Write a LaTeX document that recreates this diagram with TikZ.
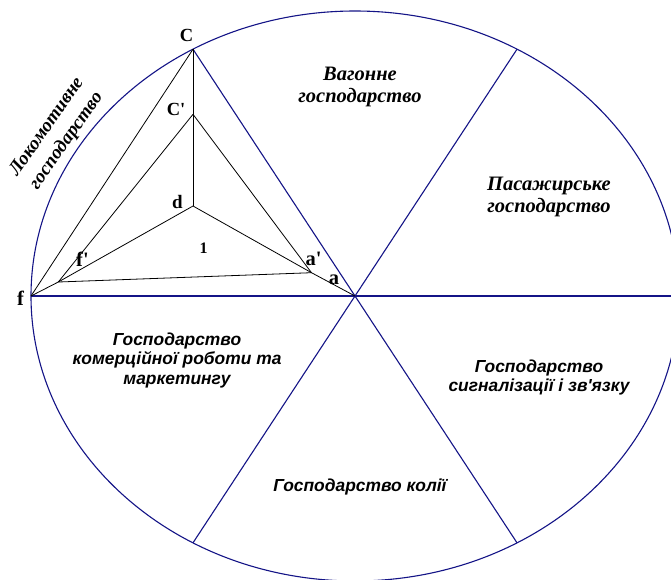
\documentclass[tikz,border=0pt]{standalone}
\usepackage{fontspec}
\newfontfamily\serifp{Liberation Serif}
\newfontfamily\sansp{Liberation Sans}
\definecolor{navyc}{RGB}{20,20,135}
\begin{document}
\begin{tikzpicture}[x=1pt,y=-1pt,
  blueline/.style={draw=navyc, line width=1.1pt},
  blackline/.style={draw=black, line width=0.8pt},
  lbl/.style={font=\serifp\bfseries\fontsize{20.5}{20.5}\selectfont, inner sep=0pt},
  lblc/.style={font=\serifp\bfseries\fontsize{18.5}{18.5}\selectfont, inner sep=0pt},
  lblsmall/.style={font=\serifp\bfseries\fontsize{16}{16}\selectfont, inner sep=0pt},
  seriftext/.style={font=\serifp\bfseries\itshape\fontsize{20.5}{22}\selectfont, align=center, inner sep=0pt},
  sanstext/.style={font=\sansp\bfseries\itshape\fontsize{17.4}{19.5}\selectfont, align=center, inner sep=0pt}]
\useasboundingbox (0,0) rectangle (671,579);
\clip (0,0) rectangle (671,579);
\fill[white] (0,0) rectangle (671,579);
% points
\coordinate (O) at (355,296);
\coordinate (C) at (193,49.2);
\coordinate (P60) at (517,49.2);
\coordinate (P240) at (193,542.8);
\coordinate (P300) at (517,542.8);
\coordinate (f) at (31,296);
\coordinate (P0) at (679,296);
\coordinate (Cp) at (193,114.3);
\coordinate (d) at (193,206);
\coordinate (fp) at (58.3,282);
\coordinate (ap) at (311.5,272.7);
% ellipse and sectors
\draw[blueline] (O) ellipse [x radius=324, y radius=285];
\draw[blueline] (f) -- (P0);
\draw[blueline] (C) -- (P300);
\draw[blueline] (P60) -- (P240);
% inner triangles
\draw[blackline] (f) -- (C);
\draw[blackline] (C) -- (d);
\draw[blackline] (f) -- (fp);
\draw[blackline] (fp) -- (Cp);
\draw[blackline] (fp) -- (d);
\draw[blackline] (fp) -- (ap);
\draw[blackline] (Cp) -- (ap);
\draw[blackline] (d) -- (ap);
\draw[blackline] (ap) -- (O);
% point labels
\node[lblc] (lC) at (186.5,35) {C};
\node[lblc] (lCp) at (176,109) {C'};
\node[lbl, font=\serifp\bfseries\fontsize{19}{19}\selectfont] (ld) at (177.5,201.5) {d};
\node[lblsmall] (l1) at (203.5,248) {1};
\node[lbl] (lfp) at (82.5,259.5) {f'};
\node[lbl] (lap) at (313.5,259) {a'};
\node[lbl] (la) at (334,280) {a};
\node[lbl] (lf) at (20.5,298.5) {f};
% sector texts
\node[seriftext] (vag) at (360,87) {Вагонне\\господарство};
\node[seriftext] (pas) at (549,197) {Пасажирське\\господарство};
\node[seriftext, rotate=55, font=\serifp\bfseries\itshape\fontsize{19}{24}\selectfont] (lok) at (57,134) {Локомотивне\\господарство};
\node[sanstext] (kom) at (177,360) {Господарство\\комерційної роботи та\\маркетингу};
\node[sanstext] (sig) at (539,377.5) {Господарство\\сигналізації і зв'язку};
\node[sanstext] (kol) at (360,487) {Господарство колії};
\end{tikzpicture}
\end{document}
